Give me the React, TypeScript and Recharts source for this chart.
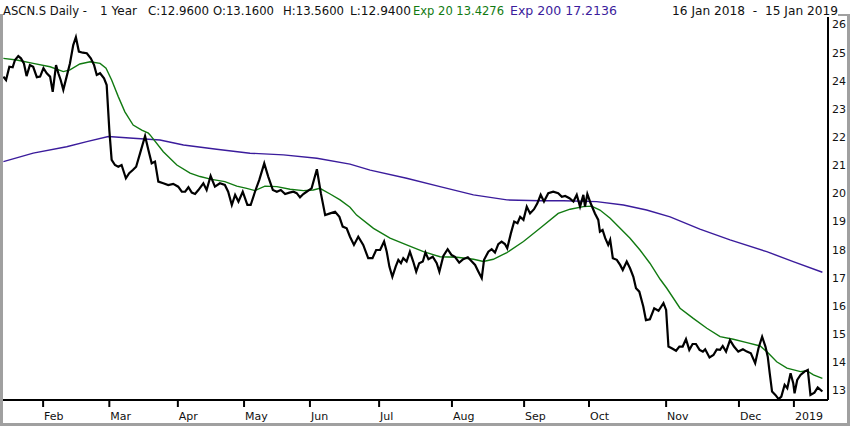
import React from "react";
import { LineChart, Line, XAxis, YAxis } from "recharts";

// Close prices: [trading day index since 16 Jan 2018, close]
const closePoints: [number, number][] = [
  [0, 24.15], [0.8, 24.03], [1.8, 24.5], [2.8, 24.48], [3.5, 24.74], [4.5, 24.88], [5.3, 24.8], [6.2, 24.62],
  [7.0, 24.17], [8.0, 24.56], [9.0, 24.5], [10.1, 24.13], [11.1, 24.15], [12.1, 24.45], [13.1, 24.27], [14.1, 24.15],
  [14.9, 23.61], [15.9, 24.56], [16.6, 24.27], [17.3, 24.03], [18.1, 23.68], [19.1, 24.15], [20.1, 24.62], [21.1, 25.27],
  [21.9, 25.55], [22.8, 25.04], [24.0, 25.0], [25.2, 24.98], [26.4, 24.8], [27.4, 24.56], [28.2, 24.21], [29.2, 24.27],
  [30.4, 24.09], [31.2, 23.85], [32.0, 22.25], [32.7, 21.19], [33.7, 21.01], [34.7, 20.95], [35.7, 21.01], [37.0, 20.54],
  [38.0, 20.72], [39.1, 20.83], [40.1, 20.95], [41.3, 21.43], [42.8, 22.04], [43.8, 21.54], [44.8, 21.07], [45.8, 21.13],
  [46.8, 20.42], [48.3, 20.36], [49.8, 20.3], [51.3, 20.34], [52.8, 20.24], [53.9, 20.06], [54.9, 20.06], [55.9, 20.22],
  [56.9, 20.03], [57.9, 19.98], [58.9, 20.12], [60.4, 20.36], [61.4, 20.12], [62.6, 20.62], [63.9, 20.24], [65.4, 20.36],
  [66.9, 20.3], [67.9, 20.06], [69.0, 19.59], [70.0, 19.95], [71.0, 19.71], [72.3, 20.06], [73.7, 19.59], [74.7, 19.59],
  [76.0, 20.06], [77.3, 20.48], [78.8, 21.07], [80.0, 20.6], [81.4, 20.12], [82.6, 20.06], [83.8, 20.12], [85.1, 19.98],
  [86.4, 20.03], [87.6, 20.06], [88.6, 20.01], [89.6, 19.86], [90.6, 19.98], [91.6, 20.06], [93.1, 20.18], [94.7, 20.86],
  [95.9, 20.01], [97.2, 19.23], [98.7, 19.29], [100.2, 19.35], [101.5, 19.17], [102.5, 18.82], [103.7, 18.76], [104.7, 18.46],
  [105.9, 18.17], [107.2, 18.46], [108.7, 18.17], [110.2, 17.7], [111.5, 17.7], [112.6, 17.99], [113.8, 17.99], [115.0, 18.29],
  [115.8, 17.93], [116.6, 17.4], [117.5, 17.04], [118.5, 17.4], [119.3, 17.64], [120.1, 17.52], [120.8, 17.7], [121.8, 17.58],
  [122.8, 17.93], [123.8, 17.58], [124.7, 17.22], [125.6, 17.52], [126.7, 17.58], [127.5, 17.9], [128.4, 17.66], [129.7, 17.75],
  [130.9, 17.52], [131.7, 17.22], [132.9, 17.78], [134.2, 18.02], [135.4, 17.81], [136.4, 17.75], [137.7, 17.54], [138.9, 17.66],
  [140.3, 17.73], [141.5, 17.58], [142.5, 17.46], [143.5, 17.22], [144.5, 16.99], [145.2, 17.64], [146.5, 17.93], [147.5, 18.02],
  [148.5, 17.9], [149.5, 18.2], [150.5, 18.29], [151.5, 18.2], [152.2, 18.05], [153.3, 18.58], [154.3, 19.0], [155.3, 18.94],
  [156.1, 19.17], [157.1, 19.06], [158.1, 19.53], [159.1, 19.29], [160.3, 19.44], [161.3, 19.65], [162.3, 19.95], [163.3, 19.71],
  [164.6, 20.01], [166.1, 20.06], [167.6, 20.01], [168.7, 19.88], [169.7, 19.91], [171.0, 19.83], [172.2, 19.71], [173.2, 19.95],
  [174.2, 19.53], [175.2, 19.95], [175.7, 19.53], [176.4, 19.98], [177.4, 19.65], [178.7, 19.29], [179.7, 19.06], [180.2, 18.64],
  [181.0, 18.7], [181.8, 18.41], [182.7, 18.17], [183.3, 18.35], [184.1, 17.7], [185.3, 17.64], [186.3, 17.46], [187.1, 17.28],
  [188.3, 17.58], [189.3, 17.34], [190.3, 17.04], [191.1, 16.63], [192.1, 16.51], [193.3, 15.98], [194.1, 15.5], [195.3, 15.53],
  [196.6, 15.92], [197.9, 15.83], [199.4, 16.1], [200.2, 15.86], [200.9, 14.56], [201.9, 14.5], [203.2, 14.41], [204.2, 14.56],
  [205.2, 14.56], [206.2, 14.82], [207.2, 14.44], [208.2, 14.65], [209.2, 14.65], [210.3, 14.44], [211.3, 14.38], [212.0, 14.46],
  [213.3, 14.17], [214.5, 14.26], [215.5, 14.46], [216.5, 14.44], [217.3, 14.58], [218.3, 14.38], [219.5, 14.79], [220.7, 14.56],
  [222.0, 14.38], [223.4, 14.46], [224.6, 14.38], [225.8, 14.32], [227.1, 13.97], [228.1, 14.5], [229.2, 14.91], [230.2, 14.56],
  [230.9, 14.2], [231.5, 13.61], [232.2, 12.96], [233.2, 12.84], [234.2, 12.69], [235.0, 12.78], [236.0, 13.2], [236.8, 13.08],
  [237.8, 13.61], [238.6, 13.26], [239.0, 12.9], [239.8, 13.37], [240.8, 13.55], [242.0, 13.67], [243.0, 13.73], [243.8, 12.84],
  [245.0, 12.92], [246.0, 13.11], [247.4, 12.96],
];

// Exponential moving average 20
const ema20Points: [number, number][] = [
  [0, 24.8], [4.0, 24.74], [9.0, 24.62], [14.1, 24.5], [18.1, 24.33], [20.1, 24.39], [23.1, 24.6], [26.2, 24.68],
  [29.2, 24.62], [31.0, 24.45], [32.7, 24.03], [34.7, 23.44], [36.7, 22.9], [39.2, 22.43], [41.8, 22.25], [43.8, 22.14],
  [44.3, 22.08], [48.3, 21.48], [52.4, 21.01], [56.4, 20.72], [59.4, 20.6], [62.9, 20.5], [66.9, 20.42], [70.5, 20.26],
  [73.5, 20.18], [76.0, 20.1], [79.0, 20.26], [82.6, 20.24], [86.6, 20.15], [90.6, 20.1], [93.6, 20.12], [95.6, 20.18],
  [98.7, 19.98], [101.7, 19.77], [104.7, 19.51], [106.7, 19.23], [111.8, 18.76], [116.8, 18.41], [121.8, 18.17], [126.9, 17.93],
  [131.9, 17.75], [137.0, 17.73], [142.0, 17.66], [145.0, 17.58], [148.0, 17.66], [152.1, 17.9], [157.1, 18.29], [162.1, 18.76],
  [167.6, 19.29], [171.2, 19.44], [175.2, 19.53], [177.7, 19.55], [180.2, 19.41], [183.3, 19.12], [186.3, 18.76], [189.3, 18.41],
  [192.3, 17.99], [195.3, 17.52], [198.4, 16.95], [200.4, 16.63], [204.4, 15.92], [208.4, 15.56], [212.5, 15.21], [216.5, 14.91],
  [220.5, 14.82], [224.6, 14.7], [228.6, 14.58], [230.6, 14.38], [233.6, 14.02], [236.7, 13.79], [240.8, 13.67], [242.7, 13.7],
  [244.7, 13.55], [247.4, 13.43],
];

// Exponential moving average 200
const ema200Points: [number, number][] = [
  [0, 21.13], [9.0, 21.43], [19.1, 21.66], [25.2, 21.84], [31.7, 22.02], [39.2, 21.96], [47.3, 21.9], [54.4, 21.72],
  [64.4, 21.57], [74.5, 21.43], [84.6, 21.37], [94.7, 21.25], [104.7, 21.04], [110.8, 20.83], [121.8, 20.54], [131.9, 20.24],
  [142.0, 19.95], [152.1, 19.77], [162.1, 19.74], [169.2, 19.74], [179.2, 19.71], [187.3, 19.59], [194.3, 19.41], [201.4, 19.17],
  [210.4, 18.73], [219.5, 18.35], [230.6, 17.93], [238.6, 17.58], [247.4, 17.2],
];

const monthTicks = [12, 32, 52.7, 72.7, 92.6, 113.5, 135.5, 157.3, 176.9, 200.2, 222.2, 238.8];
const monthLabels = ["Feb", "Mar", "Apr", "May", "Jun", "Jul", "Aug", "Sep", "Oct", "Nov", "Dec", "2019"];
const priceTicks = [13, 14, 15, 16, 17, 18, 19, 20, 21, 22, 23, 24, 25, 26];

const headerTitle = "ASCN.S Daily -";
const headerPeriod = "1 Year";
const headerOHLC = ["C:12.9600", "O:13.1600", "H:13.5600", "L:12.9400"];
const headerEma20 = "Exp 20 13.4276";
const headerEma200 = "Exp 200 17.2136";
const headerRange = "16 Jan 2018  -  15 Jan 2019";

const toRows = (pts: [number, number][]) => pts.map(([t, v]) => ({ t, v }));
const closeData = toRows(closePoints);
const ema20Data = toRows(ema20Points);
const ema200Data = toRows(ema200Points);

const FONT = "'DejaVu Sans', Verdana, sans-serif";
const GREEN = "#117a11";
const PURPLE = "#3b1c9c";
const OHLC_X = [148, 213, 283, 350];

const MonthTick = (props: any) => {
  const { x, y, payload } = props;
  const i = monthTicks.indexOf(payload.value);
  return (
    <g>
      <line x1={x} x2={x} y1={y + 1} y2={y + 7} stroke="#000" strokeWidth={2} />
      <text x={x + 1} y={y + 20} textAnchor="start" fontFamily={FONT} fontSize={11} fill="#111">
        {monthLabels[i]}
      </text>
    </g>
  );
};

export default function App() {
  const ht = { fontFamily: FONT, fontSize: 12, lengthAdjust: "spacingAndGlyphs" as const };
  return (
    <div style={{ position: "absolute", left: 0, top: 0, width: 850, height: 426, background: "#fff" }}>
      <LineChart width={850} height={426} margin={{ top: 15, right: 0, bottom: 0, left: 3 }}>
        <XAxis
          type="number"
          dataKey="t"
          domain={[-0.12, 249.1]}
          allowDataOverflow
          ticks={monthTicks}
          interval={0}
          tick={<MonthTick />}
          tickLine={false}
          tickSize={0}
          tickMargin={0}
          height={26}
          axisLine={{ stroke: "#000", strokeWidth: 2 }}
        />
        <YAxis
          orientation="right"
          type="number"
          domain={[12.66, 26.34]}
          allowDataOverflow
          ticks={priceTicks}
          interval={0}
          width={22}
          tickLine={false}
          tickSize={3}
          tickMargin={1}
          axisLine={{ stroke: "#000", strokeWidth: 2 }}
          tick={{ fontFamily: FONT, fontSize: 11, fill: "#111" }}
        />
        <Line data={ema200Data} dataKey="v" type="linear" stroke={PURPLE} strokeWidth={1.4} dot={false} isAnimationActive={false} />
        <Line data={ema20Data} dataKey="v" type="linear" stroke={GREEN} strokeWidth={1.4} dot={false} isAnimationActive={false} />
        <Line data={closeData} dataKey="v" type="linear" stroke="#000" strokeWidth={2.2} dot={false} isAnimationActive={false} />
      </LineChart>
      <svg width={850} height={426} style={{ position: "absolute", left: 0, top: 0, pointerEvents: "none" }}>
        <rect x={0} y={14} width={850} height={2} fill="#a0a0a0" />
        <rect x={0} y={14} width={3} height={412} fill="#a0a0a0" />
        <rect x={847} y={14} width={3} height={412} fill="#a0a0a0" />
        <rect x={0} y={423} width={850} height={3} fill="#a0a0a0" />
        <rect x={3} y={0} width={835} height={17} fill="#fff" />
        <text x={3} y={15} {...ht} textLength={84} fill="#111">{headerTitle}</text>
        <text x={100} y={15} {...ht} textLength={37} fill="#111">{headerPeriod}</text>
        {headerOHLC.map((s, i) => (
          <text key={s} x={OHLC_X[i]} y={15} {...ht} textLength={61} fill="#111">{s}</text>
        ))}
        <text x={413} y={15} {...ht} textLength={91} fill={GREEN}>{headerEma20}</text>
        <text x={510} y={15} {...ht} textLength={107} fill={PURPLE}>{headerEma200}</text>
        <text x={672} y={15} {...ht} textLength={166} fill="#111" style={{ whiteSpace: "pre" }} xmlSpace="preserve">
          {headerRange}
        </text>
      </svg>
    </div>
  );
}
